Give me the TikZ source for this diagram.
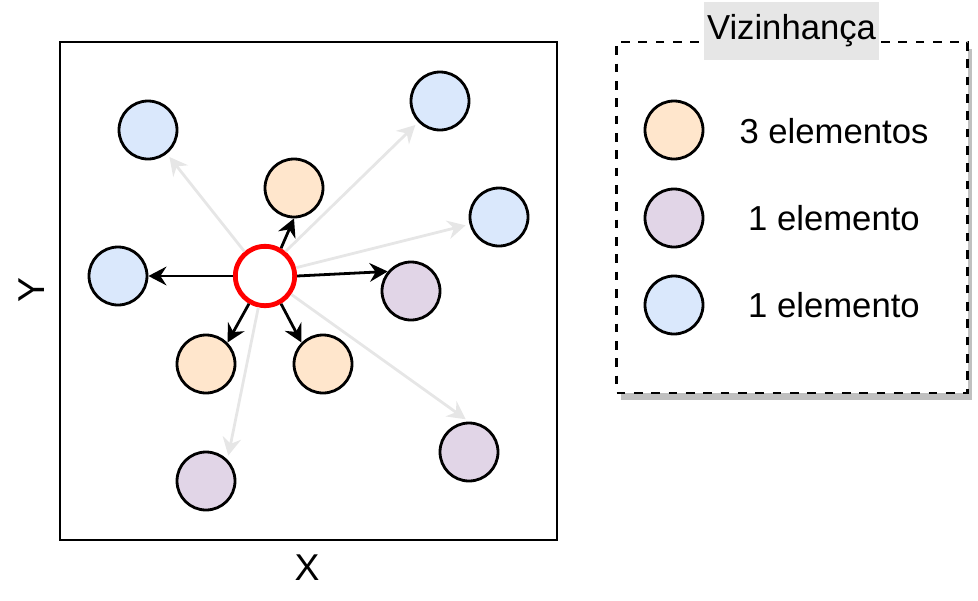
\documentclass[tikz,border=0pt]{standalone}
\usepackage{fontspec}
\setmainfont{Liberation Sans}
\usetikzlibrary{arrows.meta}
\definecolor{cblue}{HTML}{DAE8FC}
\definecolor{corange}{HTML}{FFE6CC}
\definecolor{cpurple}{HTML}{E1D5E7}
\definecolor{cgray}{HTML}{E6E6E6}
\definecolor{cshadow}{HTML}{C0C0C0}
\definecolor{cred}{HTML}{FF0000}
\begin{document}
\begin{tikzpicture}[x=0.75pt,y=-0.75pt,
  elem/.style={circle,draw=black,line width=2.1pt,minimum size=43.5pt,inner sep=0pt},
  blk/.style={draw=black,line width=2.1pt,-{Stealth[length=13.5pt,width=14pt,inset=4.5pt]}},
  gry/.style={draw=cgray,line width=2.1pt,-{Stealth[length=13.5pt,width=14pt,inset=4.5pt]},shorten >=3pt},
  lbl/.style={font=\fontsize{26}{30}\selectfont},
  axis/.style={font=\fontsize{28}{32}\selectfont}]
\useasboundingbox (0,0) rectangle (978,600);
% plot frame
\node[draw=black,line width=2.1pt,minimum width=372.75pt,minimum height=373.5pt,inner sep=0pt] (frame) at (308.5,291) {};
\node[axis] (xlab) at (307,568) {X};
\node[axis,rotate=90] (ylab) at (32,290) {Y};
% elements
\node[elem,fill=cblue] (bA) at (148,130) {};
\node[elem,fill=cblue] (bB) at (440,101) {};
\node[elem,fill=cblue] (bC) at (499,217) {};
\node[elem,fill=cblue] (bL) at (118,276) {};
\node[elem,fill=corange] (oT) at (294,188) {};
\node[elem,fill=corange] (oBL) at (206,364) {};
\node[elem,fill=corange] (oBR) at (323,364) {};
\node[elem,fill=cpurple] (pR) at (411,291) {};
\node[elem,fill=cpurple] (pBR) at (469,452) {};
\node[elem,fill=cpurple] (pBL) at (206,481) {};
\node[circle,draw=cred,line width=3.6pt,fill=white,minimum size=44.5pt,inner sep=0pt] (c) at (265,276) {};
% gray arrows
\draw[gry] (c.130) -- (bA);
\draw[gry] (c.50) -- (bB);
\draw[gry] (c.15) -- (bC);
\draw[gry] (c.-35) -- (pBR.north);
\draw[gry] (c.258) -- (pBL.45);
% black arrows
\draw[blk] (c.60) -- (oT.south);
\draw[blk] (c.west) -- (bL.east);
\draw[blk] (c.east) -- (pR.140);
\draw[blk] (c.240) -- (oBL.45);
\draw[blk] (c.300) -- (oBR.135);
% legend
\fill[cshadow] (621,49) rectangle (972,400);
\node[draw=black,fill=white,line width=2pt,dash pattern=on 6.5pt off 6.5pt,minimum width=263.25pt,minimum height=263.25pt,inner sep=0pt] (legend) at (792,217.5) {};
\node[fill=cgray,minimum width=131.25pt,minimum height=43.5pt,inner sep=0pt,lbl] (title) at (791.5,31) {Vizinhança};
\node[elem,fill=corange] (lO) at (674,130) {};
\node[elem,fill=cpurple] (lP) at (674,218) {};
\node[elem,fill=cblue] (lB) at (674,305) {};
\node[lbl] (tO) at (834,131) {3 elementos};
\node[lbl] (tP) at (834,218) {1 elemento};
\node[lbl] (tB) at (834,305) {1 elemento};
\end{tikzpicture}
\end{document}
